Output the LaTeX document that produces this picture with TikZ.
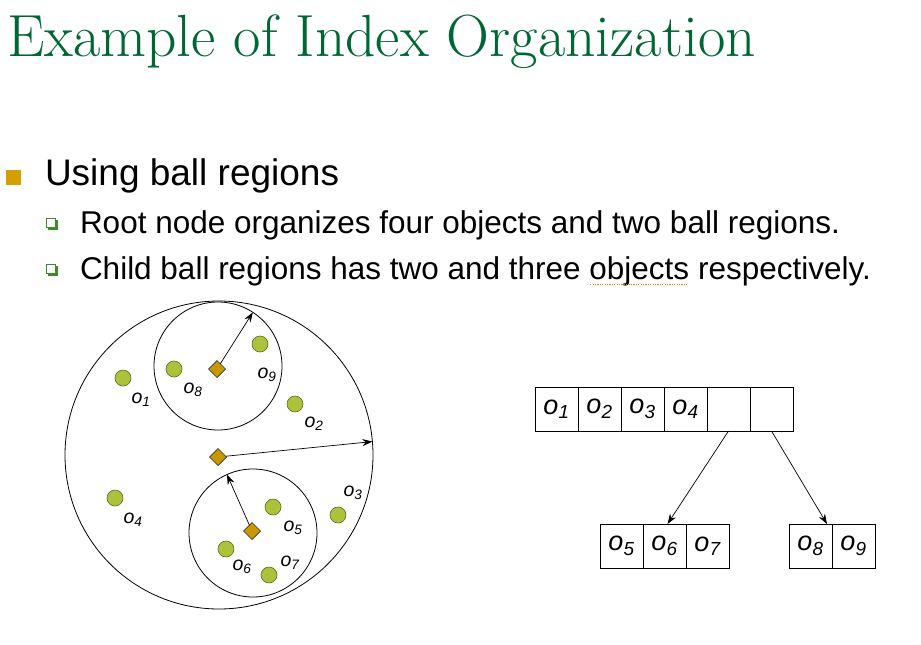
\documentclass[tikz,border=0pt]{standalone}
\usepackage{fontspec}
\setsansfont{Liberation Sans}
\usetikzlibrary{positioning,shapes.geometric,arrows.meta,shadows}
\definecolor{titlegreen} {HTML}{006633}
\definecolor{gold}       {HTML}{D4A000}
\definecolor{olive}      {HTML}{ADC23C}
\definecolor{bulletgreen}{HTML}{3C8C28}
\definecolor{squiggle}   {HTML}{C08A00}
\newcommand\obj[1]{\textit{o\textsubscript{#1}}}
\newlength\sqw
\newcommand\spellmark[1]{\settowidth\sqw{#1}\rlap{#1}%
  \raisebox{-6pt}[0pt][0pt]{\textcolor{squiggle}{\leaders\hbox to 2.4pt{\hss\rule{1.2pt}{1.2pt}\hss}\hskip\sqw}}}
\tikzset{
  every node/.style={inner sep=0pt, outer sep=0pt},
  % --- text
  headline/.style = {anchor=base west, text=titlegreen, font=\fontsize{59.5}{64}\selectfont},
  lvlone/.style   = {anchor=base west, font=\fontsize{37}{40}\sffamily},
  lvltwo/.style   = {anchor=base west, font=\fontsize{31.5}{34}\sffamily},
  bulletsq/.style = {rectangle, fill=gold, minimum size=15pt},
  subsq/.style    = {rectangle, draw=bulletgreen, fill=white, line width=0.9pt, minimum size=9.5pt,
                     drop shadow={shadow xshift=1.8pt, shadow yshift=-1.8pt, fill=bulletgreen, opacity=1}},
  % --- balls
  ball/.style  = {circle, draw, line width=0.8pt},
  pivot/.style = {diamond, draw=black!80, fill=gold!95!black, line width=0.7pt, minimum size=17pt},
  pt/.style    = {circle, draw=olive!55!black, fill=olive, line width=0.6pt, minimum size=16pt},
  lab/.style   = {font=\fontsize{19.5}{21}\sffamily},
  % --- tree
  cell/.style  = {rectangle, draw, line width=0.8pt, minimum width=43pt, minimum height=44pt,
                  font=\fontsize{27}{28}\sffamily},
  e/.style     = {-{Stealth[length=10pt,width=7pt]}, line width=0.7pt},
}
\begin{document}
\begin{tikzpicture}[x=1pt,y=-1pt]
  \useasboundingbox (0,0) rectangle (921,645);
  \fill[white] (0,0) rectangle (921,645);

  \node[headline] (title) at (7,56) {Example of Index Organization};
  \node[bulletsq] (b1) at (13.5,177) {};
  \node[lvlone] (l1) at (45,185) {Using ball regions};
  \node[subsq] (b2) at (51,223) {};
  \node[lvltwo] (l2) at (80,233) {Root node organizes four objects and two ball regions.};
  \node[subsq] (b3) at (51,269) {};
  \node[lvltwo] (l3) at (80,279) {Child ball regions has two and three \spellmark{objects} respectively.};

  % ball regions
  \node[ball, minimum size=308pt] (bigball) at (219,455) {};
  \node[ball, minimum size=128pt] (topball) at (218,366) {};
  \node[ball, minimum size=128pt] (lowball) at (253,533) {};

  \node[pivot] (d0) at (218,457) {};
  \node[pivot] (d1) at (217,369) {};
  \node[pivot] (d2) at (252,531) {};
  \draw[e] (d0) -- (bigball.5.6);
  \draw[e] (d1) -- (topball.57.8);
  \draw[e] (d2) -- (lowball.114);

  \node[pt] (p1) at (123,378) {};
  \node[pt] (p2) at (295,404) {};
  \node[pt] (p3) at (338,515) {};
  \node[pt] (p4) at (115,498) {};
  \node[pt] (p5) at (273,507) {};
  \node[pt] (p6) at (226,549) {};
  \node[pt] (p7) at (269,575) {};
  \node[pt] (p8) at (174,369) {};
  \node[pt] (p9) at (260,344) {};

  \node[lab] (o1) at (141,400) {\obj{1}};
  \node[lab] (o2) at (314,424) {\obj{2}};
  \node[lab] (o3) at (353,493) {\obj{3}};
  \node[lab] (o4) at (133,520) {\obj{4}};
  \node[lab] (o5) at (293,528) {\obj{5}};
  \node[lab] (o6) at (242,567) {\obj{6}};
  \node[lab] (o7) at (290,563) {\obj{7}};
  \node[lab] (o8) at (193,390) {\obj{8}};
  \node[lab] (o9) at (267,375) {\obj{9}};

  % tree of entries
  \node[cell] (root1) at (556.5,409) {\obj{1}};
  \node[cell, right=0pt of root1] (root2) {\obj{2}};
  \node[cell, right=0pt of root2] (root3) {\obj{3}};
  \node[cell, right=0pt of root3] (root4) {\obj{4}};
  \node[cell, right=0pt of root4] (root5) {};
  \node[cell, right=0pt of root5] (root6) {};

  \node[cell] (left1) at (621.5,546) {\obj{5}};
  \node[cell, right=0pt of left1] (left2) {\obj{6}};
  \node[cell, right=0pt of left2] (left3) {\obj{7}};

  \node[cell] (right1) at (810.5,546) {\obj{8}};
  \node[cell, right=0pt of right1] (right2) {\obj{9}};

  \draw[e] (root5.south) -- ([xshift=3pt]left2.north);
  \draw[e] (root6.south) -- ([xshift=-5pt]right1.north east);
\end{tikzpicture}
\end{document}
